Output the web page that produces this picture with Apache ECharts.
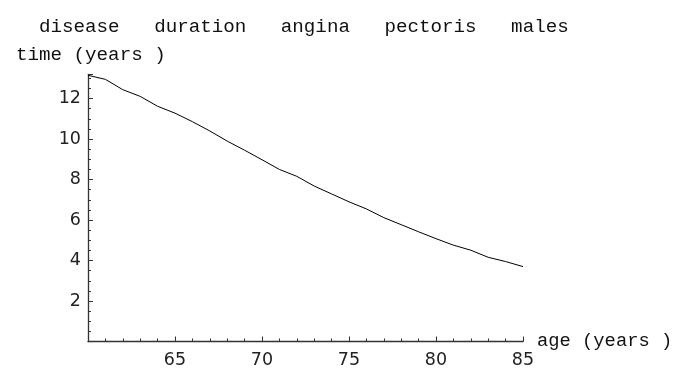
<!DOCTYPE html>
<html>
<head>
<meta charset="utf-8">
<script src="https://cdn.jsdelivr.net/npm/echarts@6/dist/echarts.min.js"></script>
<style>html,body{margin:0;padding:0;background:#fff}#c{width:678px;height:374px}</style>
</head>
<body>
<div id="c"></div>
<script>
var titleText = "  disease   duration   angina   pectoris   males";
var yName = "time (years )";
var xName = "age (years )";
var ages = [60,61,62,63,64,65,66,67,68,69,70,71,72,73,74,75,76,77,78,79,80,81,82,83,84,85];
var durations = [13.15,12.95,12.44,12.11,11.62,11.28,10.86,10.40,9.90,9.45,8.98,8.50,8.16,7.68,7.29,6.90,6.55,6.12,5.77,5.42,5.08,4.76,4.51,4.16,3.95,3.70];

var chart = echarts.init(document.getElementById('c'), null, {renderer: 'canvas'});
var mono = "'Liberation Mono', 'DejaVu Sans Mono', monospace";
var axisCol = '#333';
chart.setOption({
  animation: false,
  backgroundColor: '#fff',
  title: [
    {text: titleText, left: 11, top: 12,
     textStyle: {fontFamily: mono, fontSize: 19.2, fontWeight: 'normal', color: '#111'}},
    {text: yName, left: 11, top: 40,
     textStyle: {fontFamily: mono, fontSize: 19.2, fontWeight: 'normal', color: '#111'}}
  ],
  grid: {left: 88, right: 155, top: 74.3, bottom: 32.5, containLabel: false},
  xAxis: {
    type: 'value', min: 60, max: 85, interval: 5,
    name: xName, nameLocation: 'end', nameGap: 14,
    nameTextStyle: {fontFamily: mono, fontSize: 18.8, color: '#111', verticalAlign: 'middle', padding: [0,0,2,0]},
    axisLine: {onZero: false, lineStyle: {color: axisCol, width: 1.3}},
    axisTick: {show: true, inside: true, length: 5, lineStyle: {color: axisCol, width: 1}},
    minorTick: {show: true, splitNumber: 5, length: 3, lineStyle: {color: axisCol, width: 1}},
    axisLabel: {showMinLabel: false, showMaxLabel: true, margin: 10, fontFamily: "'DejaVu Sans', sans-serif", fontSize: 17.5, color: '#222'},
    splitLine: {show: false}
  },
  yAxis: {
    type: 'value', min: 0, max: 13.2, interval: 2,
    axisLine: {show: true, onZero: false, lineStyle: {color: axisCol, width: 1.3}},
    axisTick: {show: true, inside: true, length: 5, lineStyle: {color: axisCol, width: 1}},
    minorTick: {show: true, splitNumber: 4, length: 3, lineStyle: {color: axisCol, width: 1}},
    axisLabel: {showMinLabel: false, showMaxLabel: false, margin: 7, fontFamily: "'DejaVu Sans', sans-serif", fontSize: 17.5, color: '#222'},
    splitLine: {show: false}
  },
  series: [{
    type: 'line',
    data: ages.map(function(a, i){ return [a, durations[i]]; }),
    showSymbol: false,
    lineStyle: {color: '#000', width: 1},
    silent: true
  }]
});
</script>
</body>
</html>
